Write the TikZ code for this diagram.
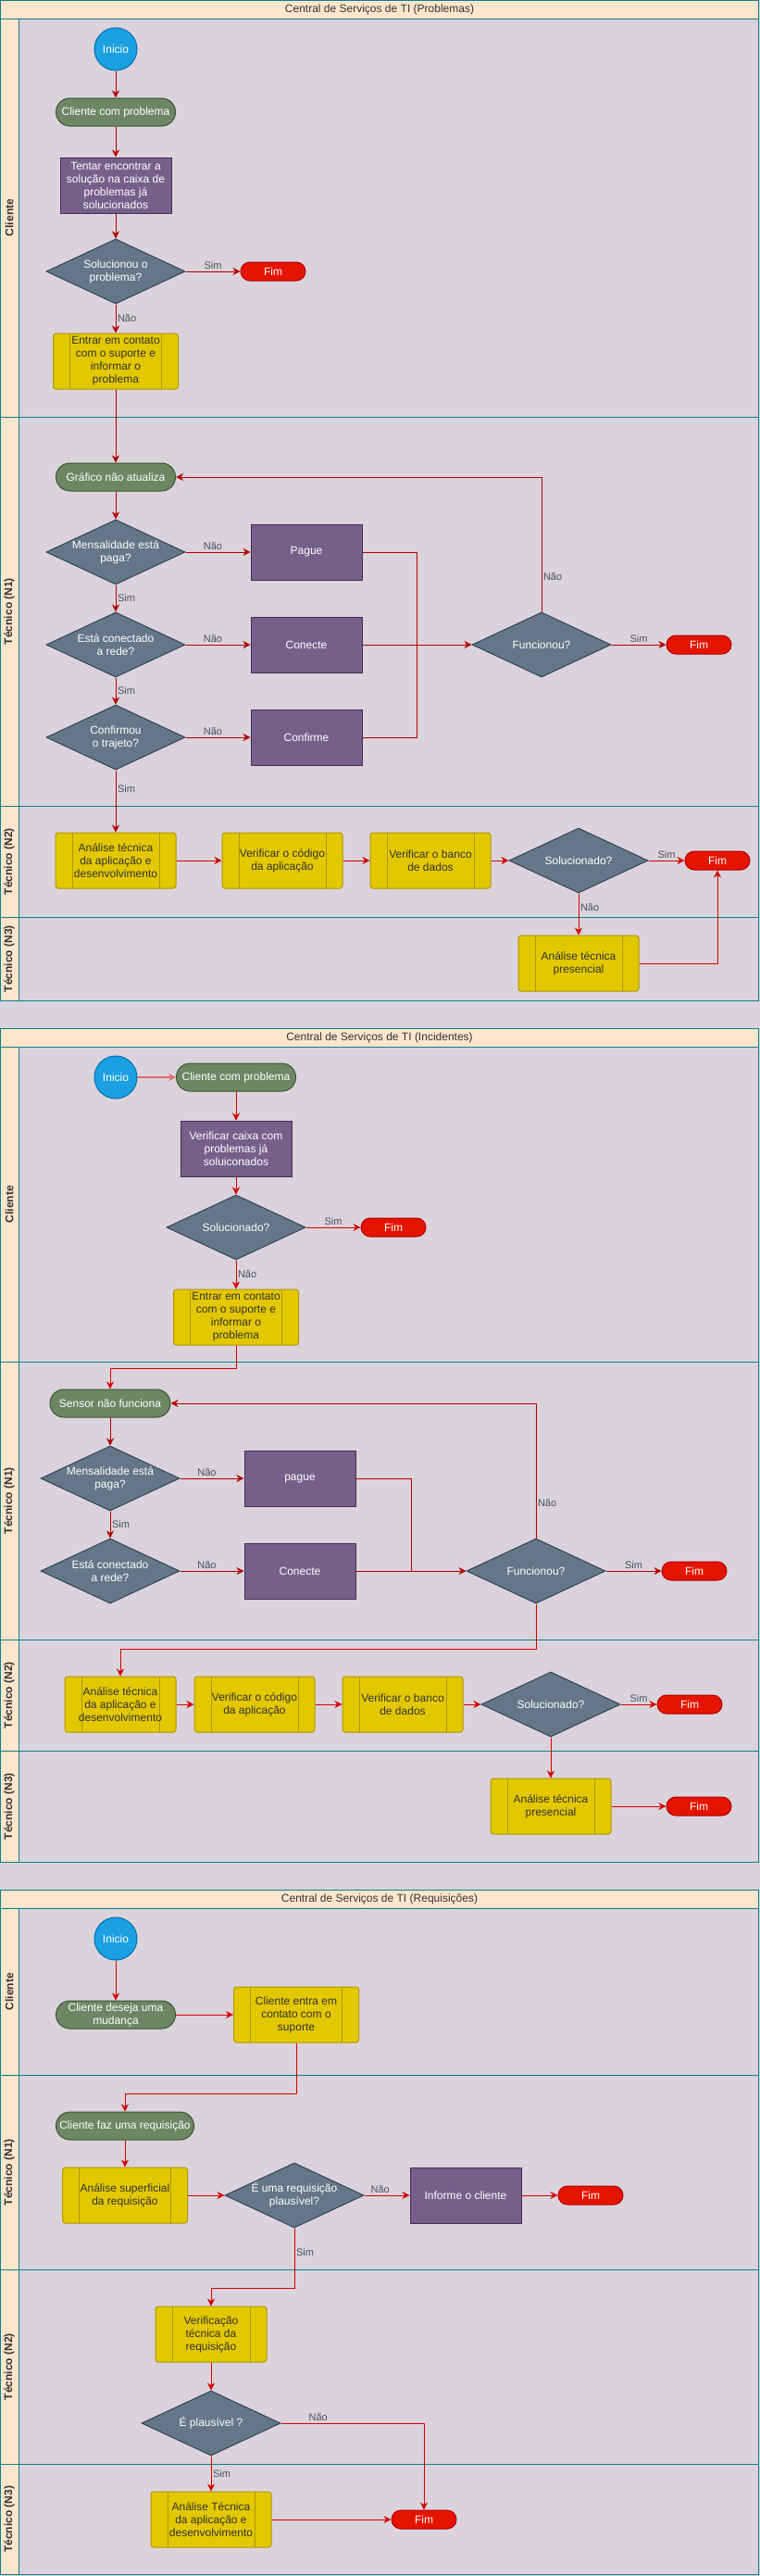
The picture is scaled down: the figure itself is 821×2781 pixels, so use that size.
\documentclass[tikz,border=0pt]{standalone}
\usepackage{fontspec}
\setmainfont{Liberation Sans}
\usetikzlibrary{shapes.geometric,arrows.meta}

\definecolor{lanebg}{HTML}{DBD3DB}
\definecolor{laneline}{HTML}{0E8088}
\definecolor{lanehd}{HTML}{FFE6CC}
\definecolor{startfill}{HTML}{1BA1E2}
\definecolor{startline}{HTML}{006EAF}
\definecolor{termfill}{HTML}{6D8764}
\definecolor{termline}{HTML}{3A5431}
\definecolor{procfill}{HTML}{76608A}
\definecolor{procline}{HTML}{432D57}
\definecolor{decfill}{HTML}{647687}
\definecolor{decline}{HTML}{314354}
\definecolor{endfill}{HTML}{E51400}
\definecolor{endline}{HTML}{B20000}
\definecolor{subfill}{HTML}{E3C800}
\definecolor{subline}{HTML}{B09500}
\definecolor{subtext}{HTML}{333333}
\definecolor{flowdark}{HTML}{B20000}
\definecolor{flowbright}{HTML}{D40000}
\definecolor{flowpink}{HTML}{E06A6A}
\definecolor{labtext}{HTML}{46515C}
\definecolor{titletext}{HTML}{333333}

\newcommand{\flowfont}{\fontsize{12}{14}\selectfont}

\tikzset{
  start/.style={circle, draw=startline, fill=startfill, line width=1pt, minimum size=46pt, inner sep=0pt, text=white, font=\flowfont},
  terminal/.style={draw=termline, fill=termfill, line width=1pt, rounded corners=15pt, minimum width=129pt, minimum height=30pt, inner ysep=0pt, text=white, align=center, font=\flowfont},
  process/.style={draw=procline, fill=procfill, line width=1pt, minimum width=120pt, minimum height=60pt, text=white, align=center, font=\flowfont},
  subproc/.style={draw=subline, fill=subfill, line width=1pt, rounded corners=3pt, minimum width=130pt, minimum height=60pt, text=subtext, align=center, font=\flowfont,
    path picture={\draw[subline, line width=1pt] ([xshift=18pt]path picture bounding box.north west) -- ([xshift=18pt]path picture bounding box.south west)
      ([xshift=-18pt]path picture bounding box.north east) -- ([xshift=-18pt]path picture bounding box.south east);}},
  dtext/.style={text=white, align=center, font=\flowfont},
  decision/.style={diamond, draw=decline, fill=decfill, line width=1pt, aspect=2.14, minimum width=150pt, minimum height=70pt, inner sep=0pt, label={[dtext]center:#1}},
  stop/.style={draw=endline, fill=endfill, line width=1pt, rounded corners=10pt, minimum width=70pt, minimum height=20pt, inner ysep=0pt, text=white, font=\flowfont},
  flow/.style={draw=flowdark, line width=1pt, -{Stealth[length=8pt,width=8pt,inset=2.5pt]}},
  flowhi/.style={draw=flowbright, line width=1pt, -{Stealth[length=8pt,width=8pt,inset=2.5pt]}},
  link/.style={draw=flowdark, line width=1pt},
  elabel/.style={text=labtext, inner sep=1.5pt, font=\fontsize{11}{13}\selectfont},
  lane/.style={draw=laneline, line width=1pt},
  lanehead/.style={draw=laneline, fill=lanehd, line width=1pt},
  poolhead/.style={draw=laneline, fill=lanehd, line width=1pt},
  lanetxt/.style={rotate=90, text=titletext, font=\fontsize{12}{14}\selectfont\bfseries},
  pooltxt/.style={text=titletext, font=\flowfont}
}

\begin{document}
\begin{tikzpicture}[x=1pt,y=-1pt]
\useasboundingbox (0,0) rectangle (821,2781);
\fill[lanebg] (0,0) rectangle (821,2781);

\foreach \yh/\ttl in {0/Problemas,1110/Incidentes,2040/Requisições}{
  \draw[poolhead] (0.5,\yh+0.5) rectangle (819.5,\yh+20);
  \node[pooltxt] (pool\yh) at (410,\yh+10) {Central de Serviços de TI (\ttl)};
}
\foreach \ya/\yb/\lab in {20/450/Cliente,450/870/Técnico (N1),870/990/Técnico (N2),990/1080/Técnico (N3),
    1130/1470/Cliente,1470/1770/Técnico (N1),1770/1890/Técnico (N2),1890/2010/Técnico (N3),
    2060/2240/Cliente,2240/2450/Técnico (N1),2450/2660/Técnico (N2),2660/2779.5/Técnico (N3)}{
  \draw[lane] (0.5,\ya) rectangle (819.5,\yb);
  \draw[lanehead] (0.5,\ya) rectangle (20,\yb);
  \node[lanetxt] (lane\ya) at (10,{(\ya+\yb)/2}) {\lab};
}

% Problemas
\node (iniA) at (125,53) [start] {Inicio};
\node (cliA) at (125,121) [terminal] {Cliente com problema};
\node (tentA) at (125,200) [process] {Tentar encontrar a\\solução na caixa de\\problemas já\\solucionados};
\node (solA) at (125,293) [decision={Solucionou o\\problema?}] {};
\node (fimA1) at (295,293) [stop] {Fim};
\node (entA) at (125,390) [subproc, minimum width=135pt] {Entrar em contato\\com o suporte e\\informar o\\problema};
\node (graA) at (125,515) [terminal] {Gráfico não atualiza};
\node (menA) at (125,596) [decision={Mensalidade está\\paga?}] {};
\node (pagA) at (331,596) [process] {Pague};
\node (conA) at (125,696) [decision={Está conectado\\a rede?}] {};
\node (ctaA) at (331,696) [process] {Conecte};
\node (cnfA) at (125,796) [decision={Confirmou\\o trajeto?}] {};
\node (cfmA) at (331,796) [process] {Confirme};
\coordinate (busA) at (450,696);
\node (funA) at (585,696) [decision={Funcionou?}] {};
\node (fimA2) at (755,696) [stop] {Fim};
\node (anaA) at (125,929) [subproc] {Análise técnica\\da aplicação e\\desenvolvimento};
\node (vcoA) at (305,929) [subproc] {Verificar o código\\da aplicação};
\node (vbaA) at (465,929) [subproc] {Verificar o banco\\de dados};
\node (sltA) at (625,929) [decision={Solucionado?}] {};
\node (fimA3) at (775,929) [stop] {Fim};
\node (preA) at (625,1040) [subproc] {Análise técnica\\presencial};

\draw[flow] (iniA) -- (cliA);
\draw[flow] (cliA) -- (tentA);
\draw[flow] (tentA) -- (solA);
\draw[flow] (solA) -- node[elabel,above] (sA1) {Sim} (fimA1);
\draw[flow] (solA) -- node[elabel,right] (nA1) {Não} (entA);
\draw[flow] (entA) -- (graA);
\draw[flow] (graA) -- (menA);
\draw[flow] (menA) -- node[elabel,above,pos=0.42] (nA2) {Não} (pagA);
\draw[flow] (menA) -- node[elabel,right] (sA2) {Sim} (conA);
\draw[flow] (conA) -- node[elabel,above,pos=0.42] (nA3) {Não} (ctaA);
\draw[flow] (conA) -- node[elabel,right] (sA3) {Sim} (cnfA);
\draw[flow] (cnfA) -- node[elabel,above,pos=0.42] (nA4) {Não} (cfmA);
\draw[flow] (cnfA) -- node[elabel,right,pos=0.3] (sA4) {Sim} (anaA);
\draw[link] (pagA) -| (busA);
\draw[link] (cfmA) -| (busA);
\draw[flow] (ctaA) -- (funA);
\draw[flow] (funA) -- node[elabel,above] (sA5) {Sim} (fimA2);
\draw[flow] (funA) |- node[elabel,right,pos=0.13] (nA5) {Não} (graA);
\draw[flowhi] (anaA) -- (vcoA);
\draw[flowhi] (vcoA) -- (vbaA);
\draw[flowhi] (vbaA) -- (sltA);
\draw[flowhi] (sltA) -- node[elabel,above] (sA6) {Sim} (fimA3);
\draw[flowhi] (sltA) -- node[elabel,right,pos=0.33] (nA6) {Não} (preA);
\draw[flowhi] (preA) -| (fimA3);

% Incidentes
\node (iniB) at (125,1163) [start] {Inicio};
\node (cliB) at (255,1163) [terminal] {Cliente com problema};
\node (verB) at (255,1240) [process] {Verificar caixa com\\problemas já\\soluiconados};
\node (solB) at (255,1325) [decision={Solucionado?}] {};
\node (fimB1) at (425,1325) [stop] {Fim};
\node (entB) at (255,1422) [subproc, minimum width=135pt] {Entrar em contato\\com o suporte e\\informar o\\problema};
\coordinate (kB1) at (255,1477);
\node (senB) at (119,1515) [terminal, minimum width=130pt] {Sensor não funciona};
\node (menB) at (119,1596) [decision={Mensalidade está\\paga?}] {};
\node (pagB) at (324,1596) [process] {pague};
\node (conB) at (119,1696) [decision={Está conectado\\a rede?}] {};
\node (ctaB) at (324,1696) [process] {Conecte};
\coordinate (busB) at (444.5,1696);
\node (funB) at (579,1696) [decision={Funcionou?}] {};
\node (fimB2) at (750,1696) [stop] {Fim};
\coordinate (kB2) at (579,1780);
\node (anaB) at (130,1840) [subproc, minimum width=120pt] {Análise técnica\\da aplicação e\\desenvolvimento};
\node (vcoB) at (275,1840) [subproc] {Verificar o código\\da aplicação};
\node (vbaB) at (435,1840) [subproc] {Verificar o banco\\de dados};
\node (sltB) at (595,1840) [decision={Solucionado?}] {};
\node (fimB3) at (745,1840) [stop] {Fim};
\node (preB) at (595,1950) [subproc] {Análise técnica\\presencial};
\node (fimB4) at (755,1950) [stop] {Fim};

\draw[flowhi, draw=flowpink, line width=2pt] (iniB) -- (cliB);
\draw[flowhi] (cliB) -- (verB);
\draw[flowhi] (verB) -- (solB);
\draw[flowhi] (solB) -- node[elabel,above] (sB1) {Sim} (fimB1);
\draw[flowhi] (solB) -- node[elabel,right] (nB1) {Não} (entB);
\draw[flowhi] (entB) -- (kB1) -| (senB);
\draw[flow] (senB) -- (menB);
\draw[flow] (menB) -- node[elabel,above,pos=0.42] (nB2) {Não} (pagB);
\draw[flow] (menB) -- node[elabel,right] (sB2) {Sim} (conB);
\draw[flow] (conB) -- node[elabel,above,pos=0.42] (nB3) {Não} (ctaB);
\draw[link] (pagB) -| (busB);
\draw[flow] (ctaB) -- (funB);
\draw[flow] (funB) -- node[elabel,above] (sB3) {Sim} (fimB2);
\draw[flow] (funB) |- node[elabel,right,pos=0.13] (nB4) {Não} (senB);
\draw[flowhi] (funB) -- (kB2) -| (anaB);
\draw[flowhi] (anaB) -- (vcoB);
\draw[flowhi] (vcoB) -- (vbaB);
\draw[flowhi] (vbaB) -- (sltB);
\draw[flowhi] (sltB) -- node[elabel,above] (sB4) {Sim} (fimB3);
\draw[flowhi] (sltB) -- (preB);
\draw[flowhi] (preB) -- (fimB4);

% Requisições
\node (iniC) at (125,2093) [start] {Inicio};
\node (desC) at (125,2175) [terminal] {Cliente deseja uma\\mudança};
\node (ectC) at (320,2175) [subproc, minimum width=135pt] {Cliente entra em\\contato com o\\suporte};
\coordinate (kC1) at (320,2260);
\node (fazC) at (135,2295) [terminal, minimum width=149pt] {Cliente faz uma requisição};
\node (supC) at (135,2370) [subproc, minimum width=135pt] {Análise superficial\\da requisição};
\node (eurC) at (318,2370) [decision={É uma requisição\\plausível?}] {};
\node (infC) at (503,2370) [process] {Informe o cliente};
\node (fimC1) at (638,2370) [stop] {Fim};
\coordinate (kC2) at (318,2470);
\node (vtrC) at (228,2520) [subproc, minimum width=120pt] {Verificação\\técnica da\\requisição};
\node (eplC) at (228,2616) [decision={É plausível ?}] {};
\node (atcC) at (228,2720) [subproc] {Análise Técnica\\da aplicação e\\desenvolvimento};
\node (fimC2) at (458,2720) [stop] {Fim};

\draw[flowhi] (iniC) -- (desC);
\draw[flowhi] (desC) -- (ectC);
\draw[flowhi] (ectC) -- (kC1) -| (fazC);
\draw[flowhi] (fazC) -- (supC);
\draw[flowhi] (supC) -- (eurC);
\draw[flowhi] (eurC) -- node[elabel,above,pos=0.35] (nC1) {Não} (infC);
\draw[flowhi] (infC) -- (fimC1);
\draw[flowhi] (eurC) -- node[elabel,right,pos=0.4] (sC1) {Sim} (kC2) -| (vtrC);
\draw[flowhi] (vtrC) -- (eplC);
\draw[flowhi] (eplC) -| node[elabel,above,pos=0.13] (nC2) {Não} (fimC2);
\draw[flowhi] (eplC) -- node[elabel,right] (sC2) {Sim} (atcC);
\draw[flowhi] (atcC) -- (fimC2);
\end{tikzpicture}
\end{document}
